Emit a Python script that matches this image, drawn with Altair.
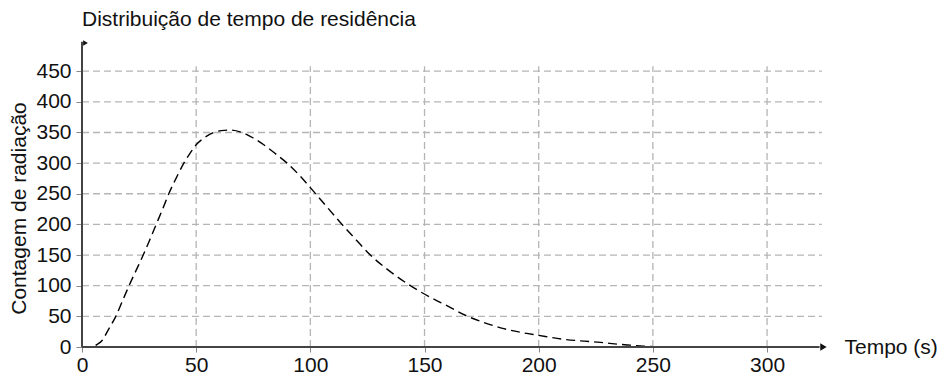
import altair as alt
import pandas as pd

# Curve data
tempo = [0, 3, 4.5, 6.5, 8.9, 11.5, 14.8, 17.7, 20.6, 23.7, 26.8, 29.7, 32.5, 35.3, 38,
         41.3, 44.6, 47.3, 50, 53.8, 57.6, 61, 65, 70.8, 75, 79.6, 84.5, 89.8, 95, 100,
         106.9, 113.9, 120, 126.3, 135, 143.8, 152.6, 160, 168.6, 176, 184.7, 192, 200,
         210, 220, 227, 235, 240, 246, 252, 260, 270, 280]
contagem = [0, 0, 0, 4, 11, 28, 50, 75, 100, 125, 150, 175, 200, 225, 250,
            276, 300, 316, 330, 342, 350, 353, 354, 349, 341, 330, 316, 300, 281, 260,
            230, 200, 175, 150, 123, 100, 81, 67, 50.5, 40, 30, 24, 19,
            13, 9.5, 7.5, 4.5, 3, 1.3, 0.3, 0, 0, 0]

x_ticks = [0, 50, 100, 150, 200, 250, 300]
y_ticks = [0, 50, 100, 150, 200, 250, 300, 350, 400, 450]

X_MAX = 328
Y_MAX = 496
GRID_X_END = 324
GRID_Y_END = 458

FONT = "Liberation Sans"
FS = 21

curve_df = pd.DataFrame({"t": tempo, "v": contagem})
hgrid_df = pd.DataFrame({"y": [v for v in y_ticks if v > 0], "x0": 0, "x1": GRID_X_END})
vgrid_df = pd.DataFrame({"x": [v for v in x_ticks if v > 0], "y0": 0, "y1": GRID_Y_END})

xscale = alt.Scale(domain=[0, X_MAX], nice=False, zero=True)
yscale = alt.Scale(domain=[0, Y_MAX], nice=False, zero=True)

xaxis = alt.Axis(values=x_ticks, grid=False, domain=False, tickColor="#888888", tickSize=5,
                 labelFontSize=FS, labelFont=FONT, labelColor="#111111", labelPadding=2,
                 labelOverlap=False, labelFlush=False,
                 title="Tempo (s)", titleFont=FONT, titleFontSize=FS, titleFontWeight="normal",
                 titleColor="#111111", titleX=762, titleY=0, titleAlign="left",
                 titleBaseline="middle", titleAngle=0)
yaxis = alt.Axis(values=y_ticks, grid=False, domain=False, tickColor="#888888", tickSize=6,
                 labelFontSize=FS, labelFont=FONT, labelColor="#111111", labelPadding=5,
                 labelOverlap=False, labelFlush=False,
                 title="Contagem de radiação", titleFont=FONT, titleFontSize=FS,
                 titleFontWeight="normal", titleColor="#111111", titleX=-63, titleY=165,
                 titleBaseline="middle", titleAlign="center", titleAngle=-90)

hgrid = alt.Chart(hgrid_df).mark_rule(color="#b5b5b5", strokeDash=[7, 4], strokeWidth=1.3).encode(
    x=alt.X("x0:Q", scale=xscale, axis=xaxis),
    x2="x1:Q",
    y=alt.Y("y:Q", scale=yscale, axis=yaxis),
)
vgrid = alt.Chart(vgrid_df).mark_rule(color="#b5b5b5", strokeDash=[7, 4], strokeWidth=1.3).encode(
    x=alt.X("x:Q", scale=xscale, axis=xaxis),
    y=alt.Y("y0:Q", scale=yscale, axis=yaxis),
    y2="y1:Q",
)

curve = alt.Chart(curve_df).mark_line(color="#000000", strokeWidth=1.4, strokeDash=[9, 5],
                                      interpolate="monotone").encode(
    x=alt.X("t:Q", scale=xscale, axis=xaxis),
    y=alt.Y("v:Q", scale=yscale, axis=yaxis),
)

axes_df = pd.DataFrame({"x0": [0, 0], "x1": [323, 0], "y0": [0, 0], "y1": [0, Y_MAX + 2]})
axes = alt.Chart(axes_df).mark_rule(color="#444444", strokeWidth=2).encode(
    x=alt.X("x0:Q", scale=xscale, axis=xaxis),
    x2="x1:Q",
    y=alt.Y("y0:Q", scale=yscale, axis=yaxis),
    y2="y1:Q",
)

xarrow = alt.Chart(pd.DataFrame({"x": [X_MAX - 3.3], "y": [0]})).mark_point(
    shape="triangle-right", filled=True, color="#111111", size=55, opacity=1).encode(
    x=alt.X("x:Q", scale=xscale, axis=xaxis),
    y=alt.Y("y:Q", scale=yscale, axis=yaxis),
)
yflag = alt.Chart(pd.DataFrame({"x": [0], "y": [Y_MAX]})).mark_point(
    shape="triangle-right", filled=True, color="#111111", size=30, opacity=1, xOffset=3.5).encode(
    x=alt.X("x:Q", scale=xscale, axis=xaxis),
    y=alt.Y("y:Q", scale=yscale, axis=yaxis),
)

chart = alt.layer(hgrid, vgrid, curve, axes, xarrow, yflag).properties(
    width=749,
    height=304,
    background="white",
    autosize=alt.AutoSizeParams(type="none"),
    padding={"left": 74, "top": 35, "right": 109, "bottom": 32},
    title=alt.TitleParams("Distribuição de tempo de residência", anchor="start", frame="group",
                          font=FONT, fontSize=FS, fontWeight="normal", color="#111111", offset=10),
).configure_view(strokeWidth=0, stroke="transparent").configure_axis(labelOverlap=False)

chart.save("out.html", embed_options={"renderer": "svg", "actions": False})
